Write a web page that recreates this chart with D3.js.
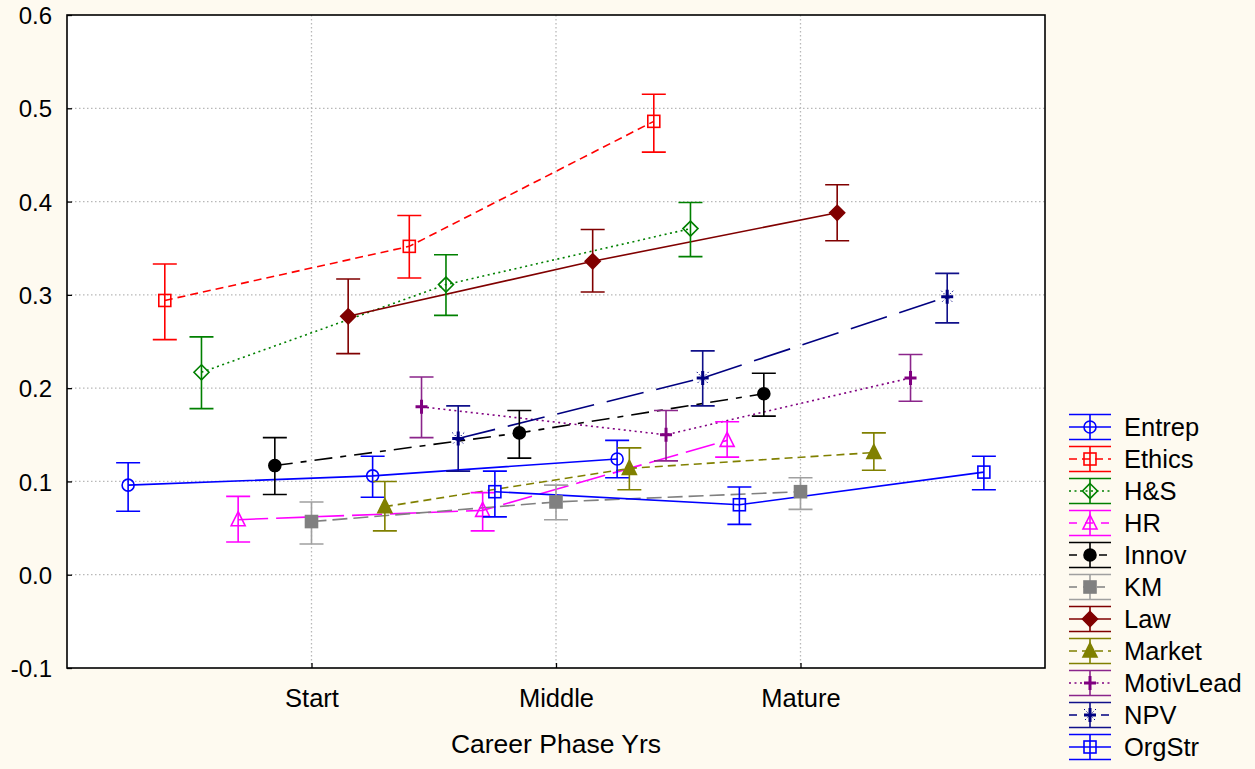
<!DOCTYPE html>
<html>
<head>
<meta charset="utf-8">
<script src="https://cdn.jsdelivr.net/npm/d3@7"></script>
<style>
  html, body { margin: 0; padding: 0; background: #fefaf0; }
  svg { display: block; font-family: "Liberation Sans", Arial, sans-serif; }
</style>
</head>
<body>
<div id="chart"></div>
<script>
// categories
var phases = ["Start", "Middle", "Mature"];
var seriesNames = ["Entrep", "Ethics", "H&S", "HR", "Innov", "KM", "Law", "Market", "MotivLead", "NPV", "OrgStr"];
var yTicks = [-0.1, 0.0, 0.1, 0.2, 0.3, 0.4, 0.5, 0.6];

// means, one row per series (Start, Middle, Mature)
var means = [
  [0.096, 0.106, 0.124],
  [0.294, 0.352, 0.486],
  [0.217, 0.311, 0.371],
  [0.059, 0.069, 0.144],
  [0.117, 0.152, 0.194],
  [0.057, 0.078, 0.089],
  [0.277, 0.336, 0.388],
  [0.073, 0.114, 0.131],
  [0.180, 0.150, 0.211],
  [0.146, 0.211, 0.298],
  [0.089, 0.075, 0.110]
];
// lower ends of the error bars
var lower = [
  [0.068, 0.083, 0.104],
  [0.252, 0.318, 0.453],
  [0.178, 0.278, 0.341],
  [0.035, 0.047, 0.126],
  [0.086, 0.125, 0.170],
  [0.033, 0.059, 0.070],
  [0.237, 0.303, 0.358],
  [0.047, 0.091, 0.112],
  [0.147, 0.122, 0.186],
  [0.111, 0.181, 0.270],
  [0.062, 0.054, 0.091]
];
// upper ends of the error bars
var upper = [
  [0.120, 0.127, 0.144],
  [0.333, 0.385, 0.515],
  [0.255, 0.343, 0.399],
  [0.084, 0.088, 0.164],
  [0.147, 0.176, 0.216],
  [0.078, 0.096, 0.104],
  [0.317, 0.370, 0.418],
  [0.100, 0.136, 0.152],
  [0.212, 0.176, 0.236],
  [0.181, 0.240, 0.323],
  [0.111, 0.094, 0.127]
];

// styles
var colors = ["#0000ff", "#ff0000", "#008000", "#ff00ff", "#000000", "#808080", "#800000", "#808000", "#800080", "#000080", "#0000ff"];
var barColors = ["#0000ff", "#ff0000", "#008000", "#ff00ff", "#000000", "#a0a0a0", "#800000", "#808000", "#8b258b", "#10108a", "#0000ff"];
var dashes = [null, "8,5", "2,3.5", "30,8", "18,8,6,8", "15,6", null, "8,5", "2,3.5", "38,13", null];
var markers = ["circle", "square", "diamond", "triangle", "dot", "filledSquare", "filledDiamond", "filledTriangle", "plus", "asterisk", "square"];

var width = 1255, height = 769;
var plot = {left: 67, top: 15, right: 1045, bottom: 668};

var svg = d3.select("#chart").append("svg")
  .attr("width", width)
  .attr("height", height);

svg.append("rect")
  .attr("width", width).attr("height", height)
  .attr("fill", "#fefaf0");

svg.append("rect")
  .attr("x", plot.left).attr("y", plot.top)
  .attr("width", plot.right - plot.left)
  .attr("height", plot.bottom - plot.top)
  .attr("fill", "#ffffff");

var x = d3.scaleLinear().domain([-1, 3]).range([plot.left, plot.right]);
var y = d3.scaleLinear().domain([-0.1, 0.6]).range([plot.bottom, plot.top]);

// grid
var grid = svg.append("g").attr("class", "grid");
grid.selectAll("line.h")
  .data(yTicks.filter(function (d) { return d > -0.1 && d < 0.6; }))
  .enter().append("line")
  .attr("class", "h")
  .attr("x1", plot.left).attr("x2", plot.right)
  .attr("y1", function (d) { return y(d); })
  .attr("y2", function (d) { return y(d); });
grid.selectAll("line.v")
  .data(phases)
  .enter().append("line")
  .attr("class", "v")
  .attr("y1", plot.top).attr("y2", plot.bottom)
  .attr("x1", function (d, i) { return x(i); })
  .attr("x2", function (d, i) { return x(i); });
grid.selectAll("line")
  .attr("stroke", "#b8b8b8")
  .attr("stroke-width", 1.3)
  .attr("stroke-dasharray", "1.5,2.5");

// axes
var yAxis = d3.axisLeft(y)
  .tickValues(yTicks)
  .tickSize(-5)
  .tickPadding(15)
  .tickFormat(function (d) { return d.toFixed(1); });
var gy = svg.append("g")
  .attr("transform", "translate(" + plot.left + ",0)")
  .call(yAxis);

var xAxis = d3.axisBottom(x)
  .tickValues([0, 1, 2])
  .tickSize(-5)
  .tickPadding(21)
  .tickFormat(function (d) { return phases[d]; });
var gx = svg.append("g")
  .attr("transform", "translate(0," + plot.bottom + ")")
  .call(xAxis);

svg.selectAll(".domain").remove();
svg.selectAll(".tick line").attr("stroke", "#000").attr("stroke-width", 1.3);
svg.selectAll(".tick text")
  .attr("font-family", "'Liberation Sans', Arial, sans-serif")
  .attr("fill", "#000");
gy.selectAll(".tick text").attr("font-size", 24).attr("dy", "0.36em");
gx.selectAll(".tick text").attr("font-size", 25.5);

// frame
svg.append("rect")
  .attr("x", plot.left).attr("y", plot.top)
  .attr("width", plot.right - plot.left)
  .attr("height", plot.bottom - plot.top)
  .attr("fill", "none")
  .attr("stroke", "#000")
  .attr("stroke-width", 1.6);

svg.append("text")
  .attr("x", x(1))
  .attr("y", 753)
  .attr("text-anchor", "middle")
  .attr("font-size", 26.5)
  .text("Career Phase Yrs");

// marker drawing
function drawMarker(g, type, cx, cy, color) {
  var s = 6;
  if (type === "circle" || type === "dot") {
    g.append("circle").attr("cx", cx).attr("cy", cy).attr("r", s)
      .attr("fill", type === "dot" ? color : "none")
      .attr("stroke", color).attr("stroke-width", 1.6);
  } else if (type === "square" || type === "filledSquare") {
    g.append("rect").attr("x", cx - s).attr("y", cy - s)
      .attr("width", 2 * s).attr("height", 2 * s)
      .attr("fill", type === "filledSquare" ? color : "none")
      .attr("stroke", color).attr("stroke-width", 1.6);
  } else if (type === "diamond" || type === "filledDiamond") {
    var r = 7.5;
    g.append("path")
      .attr("d", "M" + cx + "," + (cy - r) + "L" + (cx + r) + "," + cy + "L" + cx + "," + (cy + r) + "L" + (cx - r) + "," + cy + "Z")
      .attr("fill", type === "filledDiamond" ? color : "none")
      .attr("stroke", color).attr("stroke-width", 1.6);
  } else if (type === "triangle" || type === "filledTriangle") {
    g.append("path")
      .attr("d", "M" + cx + "," + (cy - 8) + "L" + (cx + 7) + "," + (cy + 6) + "L" + (cx - 7) + "," + (cy + 6) + "Z")
      .attr("fill", type === "filledTriangle" ? color : "none")
      .attr("stroke", color).attr("stroke-width", 1.6);
  } else if (type === "plus") {
    g.append("path")
      .attr("d", "M" + (cx - 6) + "," + cy + "H" + (cx + 6) + "M" + cx + "," + (cy - 7) + "V" + (cy + 7))
      .attr("stroke", color).attr("stroke-width", 3).attr("fill", "none");
  } else if (type === "asterisk") {
    g.append("path")
      .attr("d", "M" + (cx - 6) + "," + cy + "H" + (cx + 6) + "M" + cx + "," + (cy - 7) + "V" + (cy + 7))
      .attr("stroke", color).attr("stroke-width", 3).attr("fill", "none");
    g.append("path")
      .attr("d", "M" + (cx - 6) + "," + (cy - 6) + "L" + (cx + 6) + "," + (cy + 6) + "M" + (cx + 6) + "," + (cy - 6) + "L" + (cx - 6) + "," + (cy + 6))
      .attr("stroke", color).attr("stroke-width", 1).attr("stroke-dasharray", "1.5,2")
      .attr("fill", "none");
  }
}

function offset(i) { return (i - 5) * 0.15; }

var line = d3.line();

// series lines
var lineGroup = svg.append("g").attr("class", "lines");
seriesNames.forEach(function (name, i) {
  var pts = means[i].map(function (v, j) { return [x(j + offset(i)), y(v)]; });
  lineGroup.append("path")
    .attr("d", line(pts))
    .attr("fill", "none")
    .attr("stroke", colors[i])
    .attr("stroke-width", 1.6)
    .attr("stroke-dasharray", dashes[i]);
});

// error bars and markers
var capHalf = 12;
var barGroup = svg.append("g").attr("class", "bars");
seriesNames.forEach(function (name, i) {
  means[i].forEach(function (v, j) {
    var cx = x(j + offset(i));
    var g = barGroup.append("g");
    g.append("path")
      .attr("d", "M" + cx + "," + y(lower[i][j]) + "V" + y(upper[i][j]) +
        "M" + (cx - capHalf) + "," + y(lower[i][j]) + "H" + (cx + capHalf) +
        "M" + (cx - capHalf) + "," + y(upper[i][j]) + "H" + (cx + capHalf))
      .attr("stroke", barColors[i])
      .attr("stroke-width", 1.6)
      .attr("fill", "none");
    drawMarker(g, markers[i], cx, y(v), colors[i]);
  });
});

// legend
var legend = svg.append("g").attr("class", "legend");
seriesNames.forEach(function (name, i) {
  var cy = 427 + i * 32;
  var x0 = 1069, x1 = 1111, xm = 1090;
  var g = legend.append("g");
  g.append("path")
    .attr("d", "M" + x0 + "," + cy + "H" + x1)
    .attr("stroke", colors[i]).attr("stroke-width", 1.6)
    .attr("stroke-dasharray", dashes[i] ? dashes[i].split(",").map(function (d) { return Math.min(+d, 8); }).join(",") : null)
    .attr("fill", "none");
  g.append("path")
    .attr("d", "M" + x0 + "," + (cy - 12.5) + "H" + x1 + "M" + x0 + "," + (cy + 12.5) + "H" + x1 +
      "M" + xm + "," + (cy - 12.5) + "V" + (cy + 12.5))
    .attr("stroke", barColors[i]).attr("stroke-width", 1.6).attr("fill", "none");
  drawMarker(g, markers[i], xm, cy, colors[i]);
  g.append("text")
    .attr("x", 1124)
    .attr("y", cy + 9)
    .attr("font-size", 25.5)
    .text(name);
});
</script>
</body>
</html>
